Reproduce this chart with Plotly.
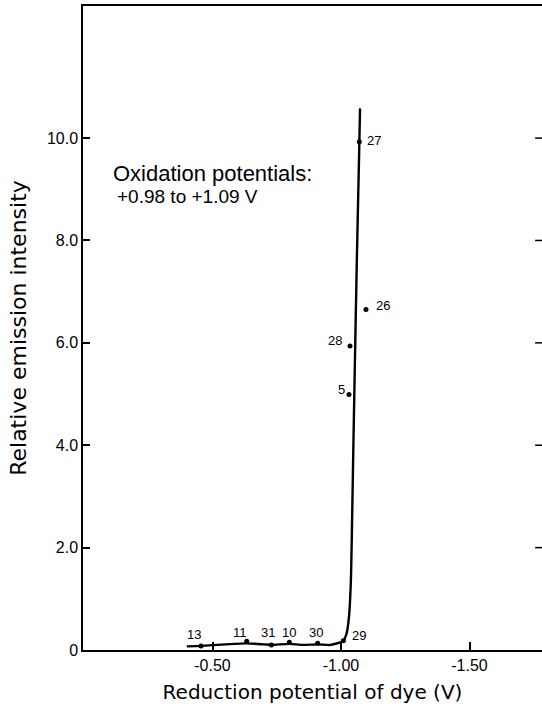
import plotly.graph_objects as go

# Curve (trend line)
curve_x = [-0.40, -0.455, -0.55, -0.633, -0.70, -0.729, -0.799, -0.85, -0.909, -0.96,
           -1.009, -1.022, -1.031, -1.038, -1.041, -1.048, -1.061, -1.071, -1.074]
curve_y = [0.07, 0.08, 0.11, 0.13, 0.11, 0.10, 0.12, 0.10, 0.11, 0.10,
           0.18, 0.33, 0.65, 1.3, 1.95, 3.97, 7.49, 9.83, 10.58]

# Dye data points
dye_labels = ["13", "11", "31", "10", "30", "29", "27", "26", "28", "5"]
dye_x = [-0.455, -0.633, -0.729, -0.799, -0.909, -1.009, -1.071, -1.097, -1.035, -1.031]
dye_y = [0.08, 0.17, 0.10, 0.15, 0.13, 0.18, 9.93, 6.65, 5.94, 4.99]
label_dx = [-7, -7, -3, 0, -2, 16, 15, 17, -15, -7]
label_dy = [-11, -9, -12, -10, -11, -5, -1, -4, -5, -5]

x_tickvals = [-0.5, -1.0, -1.5]
x_ticktext = ["-0.50", "-1.00", "-1.50"]
y_tickvals = [0, 2, 4, 6, 8, 10]
y_ticktext = ["0", "2.0", "4.0", "6.0", "8.0", "10.0"]

FONT = "Liberation Sans"
TFONT = "DejaVu Sans"

fig = go.Figure()
fig.add_trace(go.Scatter(x=curve_x, y=curve_y, mode="lines",
                         line=dict(color="black", width=2.4, shape="spline", smoothing=0.6),
                         hoverinfo="skip", showlegend=False))
fig.add_trace(go.Scatter(x=dye_x, y=dye_y, mode="markers",
                         marker=dict(color="black", size=5),
                         showlegend=False))

for lab, x, y, dx, dy in zip(dye_labels, dye_x, dye_y, label_dx, label_dy):
    fig.add_annotation(x=x, y=y, text=lab, showarrow=False, xshift=dx, yshift=-dy,
                       font=dict(family=FONT, size=13, color="black"))

fig.add_annotation(xref="paper", yref="paper", x=0.062, y=0.717, xanchor="left", yanchor="bottom",
                   text="Oxidation potentials:", showarrow=False,
                   font=dict(family=FONT, size=22, color="black"))
fig.add_annotation(xref="paper", yref="paper", x=0.070, y=0.723, xanchor="left", yanchor="top",
                   text="+0.98 to +1.09 V", showarrow=False,
                   font=dict(family=FONT, size=19, color="black"))

# right-side inward ticks (right axis line lies beyond the picture)
for v in y_tickvals[1:]:
    fig.add_shape(type="line", xref="paper", yref="y", x0=0.985, x1=1.0, y0=v, y1=v,
                  line=dict(color="black", width=1.5))

fig.update_xaxes(range=[0.004, -1.782], tickvals=x_tickvals, ticktext=x_ticktext,
                 ticks="inside", ticklen=8, tickwidth=1.5, tickcolor="black",
                 showline=True, linecolor="black", linewidth=1.5, mirror=True,
                 showgrid=False, zeroline=False,
                 tickfont=dict(family=FONT, size=16, color="black"),
                 title=dict(text="Reduction potential of dye (V)", standoff=12,
                            font=dict(family=TFONT, size=20, color="black")))
fig.update_yaxes(range=[0, 12.58], tickvals=y_tickvals, ticktext=y_ticktext,
                 ticks="inside", ticklen=7, tickwidth=1.5, tickcolor="black",
                 showline=True, linecolor="black", linewidth=1.5, mirror=False,
                 showgrid=False, zeroline=False,
                 tickfont=dict(family=FONT, size=16, color="black"),
                 title=dict(text="Relative emission intensity", standoff=14,
                            font=dict(family=TFONT, size=22, color="black")))

fig.update_layout(width=542, height=709, margin=dict(l=83, r=0, t=6, b=59),
                  paper_bgcolor="white", plot_bgcolor="white")

fig.write_html("out.html", config={"displayModeBar": False},
               post_script="document.body.style.margin='0';")
